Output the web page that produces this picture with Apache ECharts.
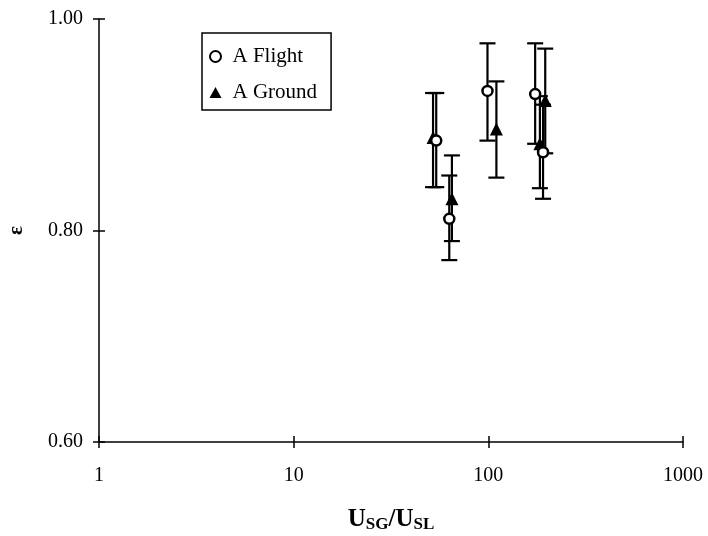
<!DOCTYPE html>
<html><head><meta charset="utf-8">
<script src="https://cdn.jsdelivr.net/npm/echarts@6/dist/echarts.min.js"></script>
<style>html,body{margin:0;padding:0;background:#fff}#c{width:708px;height:536px}</style>
</head><body><div id="c"></div>
<script>
// Data
const xTicks = [1, 10, 100, 1000];
const yTicks = [0.60, 0.80, 1.00];
const flightX = [54, 63, 99, 174, 191];
const flightY = [0.885, 0.811, 0.932, 0.929, 0.874];
const flightLow = [0.841, 0.772, 0.885, 0.882, 0.830];
const flightHigh = [0.930, 0.852, 0.977, 0.977, 0.919];
const groundX = [52, 65, 110, 196, 184];
const groundY = [0.888, 0.830, 0.896, 0.923, 0.882];
const groundLow = [0.841, 0.790, 0.850, 0.873, 0.840];
const groundHigh = [0.930, 0.871, 0.941, 0.972, 0.927];

const font = '"Liberation Serif", "DejaVu Serif", serif';
const chart = echarts.init(document.getElementById('c'));

function errData(xs, lo, hi) { return xs.map((x, i) => [x, lo[i], hi[i]]); }
function errRender(params, api) {
  const x = api.value(0);
  const top = api.coord([x, api.value(2)]);
  const bot = api.coord([x, api.value(1)]);
  const hw = 8;
  const st = { stroke: '#000', lineWidth: 2.2 };
  return { type: 'group', children: [
    { type: 'line', shape: { x1: top[0], y1: top[1], x2: bot[0], y2: bot[1] }, style: st },
    { type: 'line', shape: { x1: top[0] - hw, y1: top[1], x2: top[0] + hw, y2: top[1] }, style: st },
    { type: 'line', shape: { x1: bot[0] - hw, y1: bot[1], x2: bot[0] + hw, y2: bot[1] }, style: st }
  ]};
}

const xAxisBase = {
  type: 'log', logBase: 10, min: 1, max: 1000, gridIndex: 0,
  splitLine: { show: false }, minorTick: { show: false }
};
const yAxisBase = {
  type: 'value', min: 0.6, max: 1.0, interval: 0.2, gridIndex: 0,
  splitLine: { show: false }
};

chart.setOption({
  animation: false,
  backgroundColor: '#fff',
  grid: { left: 99, right: 25, top: 19, bottom: 94, containLabel: false, outerBoundsMode: 'none' },
  legend: {
    orient: 'vertical', left: 202, top: 33,
    data: ['A Flight', 'A Ground'],
    backgroundColor: '#fff',
    borderColor: '#000', borderWidth: 1.5,
    padding: [13, 14, 7, 7],
    itemGap: 15, itemWidth: 12, itemHeight: 11,
    textStyle: { fontFamily: font, fontSize: 21, color: '#000', padding: [0, 0, 0, 6] }
  },
  xAxis: [
    Object.assign({}, xAxisBase, {
      axisLine: { show: true, lineStyle: { color: '#000', width: 1.5 } },
      axisTick: { show: true, inside: false, length: 6, lineStyle: { color: '#000', width: 1.5 } },
      axisLabel: { color: '#000', fontFamily: font, fontSize: 20, margin: 24,
        formatter: v => String(xTicks.find(t => Math.abs(t - v) < 1e-6 * t) ?? v) },
      name: '{u|U}{s|SG}{u|/U}{s|SL}', nameLocation: 'middle', nameGap: 65,
      nameTextStyle: { rich: {
        u: { fontFamily: font, fontSize: 25, fontWeight: 'bold', color: '#000' },
        s: { fontFamily: font, fontSize: 17, fontWeight: 'bold', color: '#000', verticalAlign: 'bottom', padding: [9, 0, 0, 0] }
      } }
    }),
    Object.assign({}, xAxisBase, {
      position: 'bottom',
      axisLine: { show: false },
      axisTick: { show: true, inside: true, length: 6, lineStyle: { color: '#000', width: 1.5 } },
      axisLabel: { show: false }
    })
  ],
  yAxis: [
    Object.assign({}, yAxisBase, {
      axisLine: { show: true, lineStyle: { color: '#000', width: 1.5 } },
      axisTick: { show: true, inside: false, length: 6, lineStyle: { color: '#000', width: 1.5 } },
      axisLabel: { color: '#000', fontFamily: font, fontSize: 20, margin: 16,
        formatter: v => { const t = yTicks.find(t => Math.abs(t - v) < 1e-9); return (t ?? v).toFixed(2); } },
      name: 'ε', nameLocation: 'middle', nameGap: 72, nameRotate: 90,
      nameTextStyle: { fontFamily: font, fontSize: 21, fontWeight: 'bold', color: '#000' }
    }),
    Object.assign({}, yAxisBase, {
      position: 'left',
      axisLine: { show: false },
      axisTick: { show: true, inside: true, length: 6, lineStyle: { color: '#000', width: 1.5 } },
      axisLabel: { show: false }
    })
  ],
  series: [
    { name: 'flightErr', type: 'custom', renderItem: errRender, data: errData(flightX, flightLow, flightHigh), z: 2, silent: true },
    { name: 'groundErr', type: 'custom', renderItem: errRender, data: errData(groundX, groundLow, groundHigh), z: 2, silent: true },
    { name: 'A Flight', type: 'scatter', symbol: 'circle', symbolSize: 10,
      itemStyle: { color: '#fff', borderColor: '#000', borderWidth: 2.5, opacity: 1 },
      data: flightX.map((x, i) => [x, flightY[i]]), z: 4 },
    { name: 'A Ground', type: 'scatter', symbol: 'triangle', symbolSize: 13,
      itemStyle: { color: '#000', opacity: 1 },
      data: groundX.map((x, i) => [x, groundY[i]]), z: 3 }
  ]
});
</script></body></html>
